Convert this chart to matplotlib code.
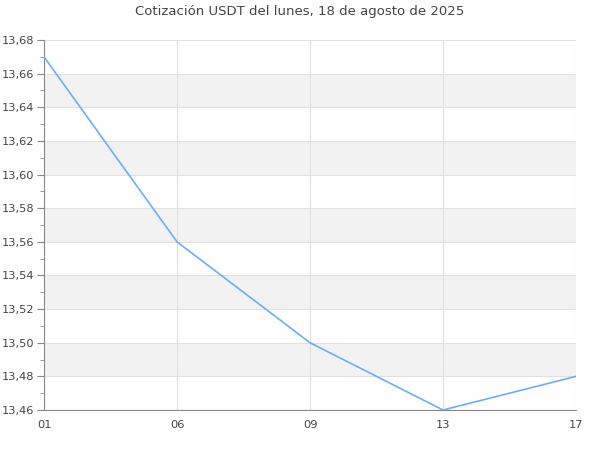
import numpy as np
import matplotlib.pyplot as plt
from matplotlib.ticker import MultipleLocator, FuncFormatter

horas = ["01", "06", "09", "13", "17"]
precios = [13.67, 13.56, 13.50, 13.46, 13.48]
titulo = "Cotización USDT del lunes, 18 de agosto de 2025"

fig = plt.figure(figsize=(6, 4.5), dpi=100)
ax = fig.add_axes([44/600, 1 - 410/450, 532/600, 370/450])

x = np.arange(len(horas))
ax.plot(x, precios, color="#6aaff5", lw=1.2, zorder=3)

ax.set_xlim(0, len(horas) - 1)
ax.set_ylim(13.46, 13.68)

# bandas grises alternas
for y0 in np.arange(13.48, 13.68, 0.04):
    ax.axhspan(y0, y0 + 0.02, color="#f2f2f2", lw=0, zorder=0)

ax.yaxis.set_major_locator(MultipleLocator(0.02))
ax.yaxis.set_minor_locator(MultipleLocator(0.01))
ax.yaxis.set_major_formatter(FuncFormatter(lambda v, p: f"{v:.2f}".replace(".", ",")))
ax.set_xticks(x)
ax.set_xticklabels(horas)

ax.grid(True, which="major", color="#e0e0e0", lw=0.8, zorder=1)
ax.set_axisbelow(True)

for s in ["top", "right"]:
    ax.spines[s].set_visible(False)
for s in ["left", "bottom"]:
    ax.spines[s].set_color("#888888")

ax.tick_params(axis="y", which="major", length=5, color="#888888", labelsize=8.2, labelcolor="#444444", pad=2)
ax.tick_params(axis="y", which="minor", length=3, color="#888888")
ax.tick_params(axis="x", length=0, labelsize=8.2, labelcolor="#444444", pad=7)

fig.text(0.5, 0.975, titulo, ha="center", va="center", fontsize=9.5, color="#444444")

fig.savefig("out.png", dpi=100)
